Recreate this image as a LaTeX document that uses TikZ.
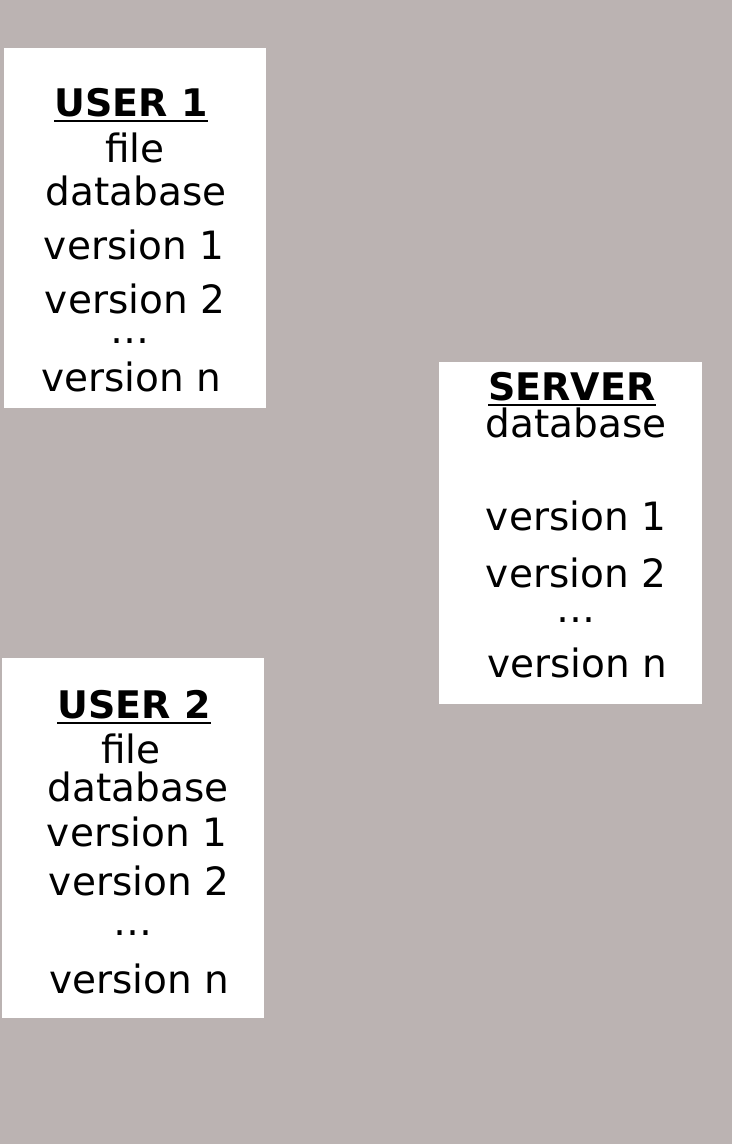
\documentclass[tikz,border=0pt]{standalone}
\usepackage{fontspec}
\setmainfont{DejaVu Sans}
\definecolor{bg}{RGB}{187,179,178}
\begin{document}
\begin{tikzpicture}[x=1pt,y=-1pt,
  txt/.style={anchor=base,inner sep=0pt,font=\fontsize{39}{46}\selectfont},
  ttl/.style={anchor=base,inner sep=0pt,font=\fontsize{38}{46}\selectfont\bfseries},
  panel/.style={fill=white,draw=none},
  uline/.style={line width=2.6pt,black}]
\fill[bg] (0,0) rectangle (732,1144);
\useasboundingbox (0,0) rectangle (732,1144);
% boxes
\node[panel,anchor=north west,minimum width=262pt,minimum height=360pt,inner sep=0pt] (b1) at (4,48) {};
\node[panel,anchor=north west,minimum width=263pt,minimum height=342pt,inner sep=0pt] (bs) at (439,362) {};
\node[panel,anchor=north west,minimum width=262pt,minimum height=360pt,inner sep=0pt] (b2) at (2,658) {};
% USER 1
\node[ttl] (u1t) at (131,116) {USER 1};
\draw[uline] ([yshift=-5pt]u1t.base west) -- ([yshift=-5pt]u1t.base east);
\node[txt] (u1a) at (135,162) {file};
\node[txt] (u1b) at (136,205) {database};
\node[txt] (u1c) at (134,259) {version 1};
\node[txt] (u1d) at (135,313) {version 2};
\node[txt] (u1e) at (130,343) {…};
\node[txt] (u1f) at (131,391) {version n};
% SERVER
\node[ttl] (st) at (572,400) {SERVER};
\draw[uline] ([yshift=-5pt]st.base west) -- ([yshift=-5pt]st.base east);
\node[txt] (sa) at (576,437) {database};
\node[txt] (sb) at (576,530) {version 1};
\node[txt] (sc) at (576,587) {version 2};
\node[txt] (sd) at (576,622) {…};
\node[txt] (se) at (577,677) {version n};
% USER 2
\node[ttl] (u2t) at (134,718) {USER 2};
\draw[uline] ([yshift=-5pt]u2t.base west) -- ([yshift=-5pt]u2t.base east);
\node[txt] (u2a) at (131,763) {file};
\node[txt] (u2b) at (138,801) {database};
\node[txt] (u2c) at (137,846) {version 1};
\node[txt] (u2d) at (139,895) {version 2};
\node[txt] (u2e) at (133,935) {…};
\node[txt] (u2f) at (139,993) {version n};
\end{tikzpicture}
\end{document}
